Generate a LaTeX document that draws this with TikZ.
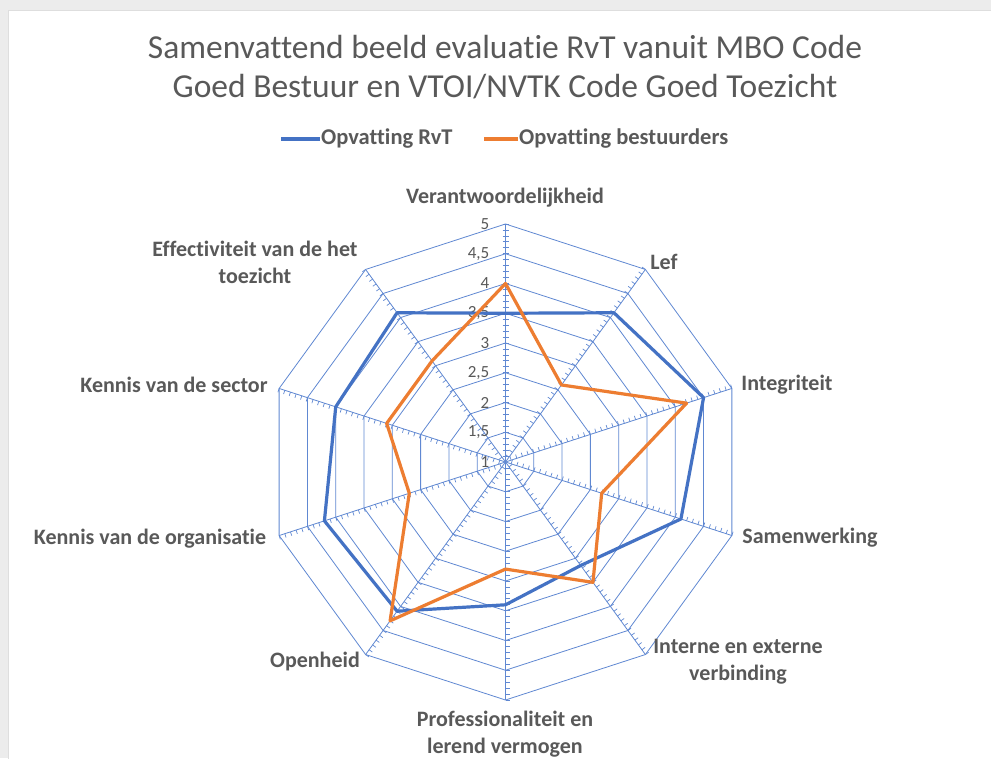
\documentclass[tikz,border=0pt]{standalone}
\usepackage{fontspec}
\setmainfont{Carlito}[Ligatures=NoCommon]
\definecolor{rvtblue}{RGB}{68,114,196}
\definecolor{webblue}{RGB}{96,136,210}
\definecolor{bestorange}{RGB}{237,125,49}
\definecolor{txtgray}{RGB}{89,89,89}
\definecolor{bggray}{RGB}{236,236,236}
\definecolor{edgegray}{RGB}{222,222,222}
\begin{document}
\begin{tikzpicture}[x=1pt, y=1pt,
  webline/.style={draw=webblue, line width=0.8pt},
  rvt/.style={draw=rvtblue, line width=3.2pt, line join=round},
  bestuur/.style={draw=bestorange, line width=3.2pt, line join=round},
  axlabel/.style={text=txtgray, font=\fontsize{22}{27}\selectfont\bfseries, align=center, inner sep=0pt},
  valtext/.style={text=txtgray, font=\fontsize{17}{20}\selectfont, inner sep=1pt},
  legtext/.style={anchor=west, text=txtgray, font=\fontsize{22.5}{26}\selectfont\bfseries, inner sep=1pt},
  ]
  \useasboundingbox (0,0) rectangle (991,758);
  \fill[bggray] (0,0) rectangle (991,758);
  \filldraw[fill=white, draw=edgegray, line width=1pt] (8,-5) rectangle (1000,747.5);

  % title and legend
  \node (title) at (505, 691) [text=txtgray, font=\fontsize{33.5}{39}\selectfont, align=center] {Samenvattend beeld evaluatie RvT vanuit MBO Code\\Goed Bestuur en VTOI/NVTK Code Goed Toezicht};
  \node (legrvt) at (320, 619) [legtext] {Opvatting RvT};
  \node (legbest) at (518, 619) [legtext] {Opvatting bestuurders};
  \coordinate (legrvtstart) at (281, 619);
  \coordinate (legbeststart) at (484, 619);
  \draw[rvt] (legrvtstart) -- (legrvt.west);
  \draw[bestuur] (legbeststart) -- (legbest.west);

  \begin{scope}[shift={(505.5,296)}]
    % web: rings, spokes, ticks
    \foreach \k in {1,...,8}
      \draw[webline] (90:\k*29.75) \foreach \i in {1,...,9} { -- ({90-36*\i}:\k*29.75) } -- cycle;
    \foreach \i in {0,...,9}
      \draw[webline] (0,0) -- ({90-36*\i}:238);
    \foreach \i in {1,...,9}
      \foreach \t in {1,...,40}
        \draw[webline, line width=0.7pt] ({90-36*\i}:\t*5.95) -- ++({180-36*\i}:4);
    \foreach \t in {1,...,40}
      \draw[webline, line width=0.7pt] (-3,\t*5.95) -- (3,\t*5.95);
    \foreach \v [count=\k from 0] in {1,{1,5},2,{2,5},3,{3,5},4,{4,5},5}
      \node (val\k) at (-15, \k*29.75) [anchor=east, valtext] {\v};

    % series
    \draw[rvt] (90:148.75) \foreach \v [count=\i] in {4.1,4.5,4.1,3.15,3.4,4.1,4.2,4.0,4.1} { -- ({90-36*\i}:{(\v-1)*59.5}) } -- cycle;
    \draw[bestuur] (90:178.5) \foreach \v [count=\i] in {2.6,4.2,2.7,3.5,2.8,4.3,2.7,3.1,3.1} { -- ({90-36*\i}:{(\v-1)*59.5}) } -- cycle;
  \end{scope}

  % axis labels
  \node (verantw) at (505, 560) [axlabel] {Verantwoordelijkheid};
  \node (lef) at (664, 496) [axlabel] {Lef};
  \node (integr) at (787, 373) [axlabel] {Integriteit};
  \node (samenw) at (810, 220) [axlabel] {Samenwerking};
  \node (verbind) at (738, 96) [axlabel] {Interne en externe\\verbinding};
  \node (profess) at (505, 24) [axlabel] {Professionaliteit en\\lerend vermogen};
  \node (openh) at (315, 96) [axlabel] {Openheid};
  \node (organis) at (150, 219) [axlabel] {Kennis van de organisatie};
  \node (sector) at (174, 373) [axlabel] {Kennis van de sector};
  \node (effect) at (255, 496) [axlabel] {Effectiviteit van de het\\toezicht};
\end{tikzpicture}
\end{document}
